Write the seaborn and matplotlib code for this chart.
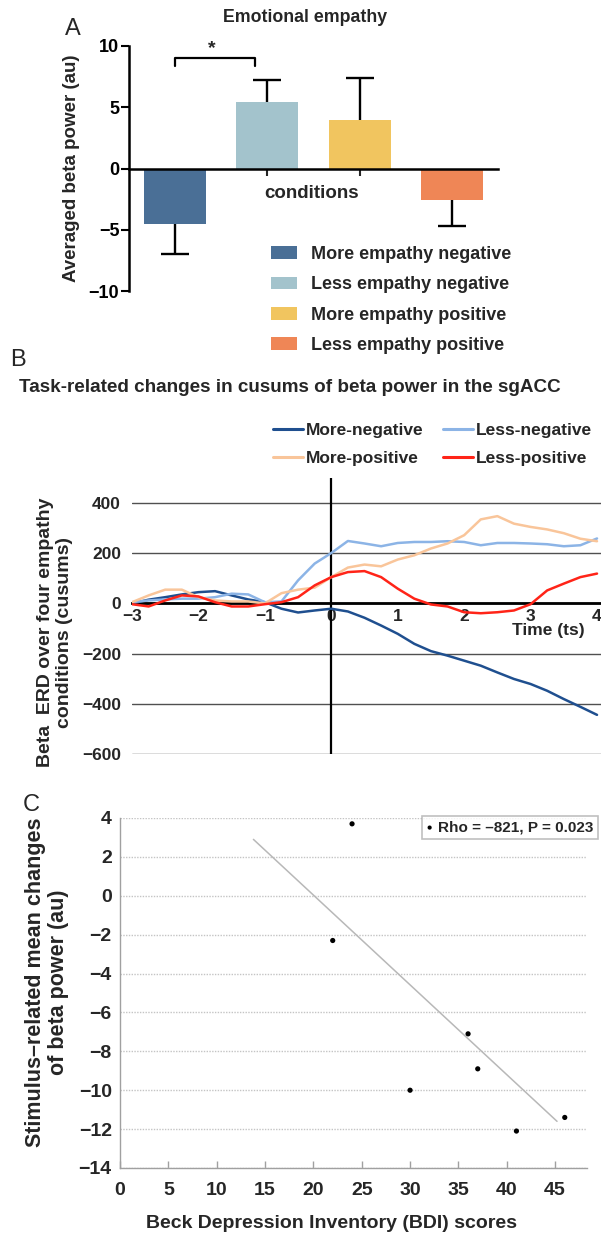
import numpy as np
import pandas as pd
import matplotlib
matplotlib.use("Agg")
import matplotlib.pyplot as plt
import seaborn as sns
from matplotlib.patches import Patch
from matplotlib.lines import Line2D

# ---------------- Panel A data ----------------
conditions = ["More empathy negative", "Less empathy negative",
              "More empathy positive", "Less empathy positive"]
beta_means = [-4.5, 5.4, 4.0, -2.6]
beta_err = [2.5, 1.8, 3.4, 2.1]
bar_colors = ["#4a6f96", "#a3c3cc", "#f1c55f", "#ef8656"]

# ---------------- Panel B data ----------------
time_s = [-3.0, -2.75, -2.5, -2.25, -2.0, -1.75, -1.5, -1.25, -1.0, -0.75,
          -0.5, -0.25, 0.0, 0.25, 0.5, 0.75, 1.0, 1.25, 1.5, 1.75,
          2.0, 2.25, 2.5, 2.75, 3.0, 3.25, 3.5, 3.75, 4.0]
more_negative = [0, 15, 25, 36, 45, 49, 32, 16, 5, -21,
                 -36, -28, -21, -32, -57, -88, -121, -161, -190, -208,
                 -228, -248, -275, -301, -321, -348, -381, -412, -444]
less_negative = [5, 12, 16, 19, 19, 25, 39, 36, 5, 8,
                 92, 159, 201, 249, 239, 228, 241, 245, 245, 248,
                 245, 232, 241, 241, 239, 236, 228, 232, 259]
more_positive = [5, 32, 55, 55, 25, 12, 8, 8, 0, 41,
                 55, 63, 105, 143, 155, 148, 175, 192, 219, 239,
                 272, 335, 348, 318, 305, 295, 280, 258, 248]
less_positive = [-3, -12, 12, 32, 28, 5, -12, -12, -3, 5,
                 25, 72, 105, 125, 129, 105, 59, 19, -4, -12,
                 -35, -39, -35, -28, -3, 52, 79, 105, 119]
series_names = ["More-negative", "Less-negative", "More-positive", "Less-positive"]
series_colors = ["#1f4f8f", "#8cb4e6", "#f9c59a", "#ff2418"]

# ---------------- Panel C data ----------------
bdi_scores = [22, 24, 30, 36, 37, 41, 46]
beta_change = [-2.3, 3.7, -10.0, -7.1, -8.9, -12.1, -11.4]
fit_x = [13.8, 45.2]
fit_y = [2.9, -11.6]
stat_label = "Rho = \u2013821, P = 0.023"

# ---------------- style ----------------
sns.set_style("white")
plt.rcParams["font.family"] = ["Liberation Sans", "DejaVu Sans"]

W, H = 601, 1236
fig = plt.figure(figsize=(W / 100, H / 100), dpi=100)


def fx(px):
    return px / W


def fy(py):
    return 1 - py / H


def rect(l, t, r, b):
    return [l / W, 1 - b / H, (r - l) / W, (b - t) / H]


# ======================= Panel A =======================
axA = fig.add_axes(rect(129, 46, 498, 291))
dfA = pd.DataFrame({"condition": conditions, "value": beta_means})
sns.barplot(data=dfA, x="condition", y="value", hue="condition",
            palette=bar_colors, width=0.67, saturation=1, legend=False, ax=axA)
for p in axA.patches:
    p.set_zorder(3)
    p.set_edgecolor("none")
axA.errorbar(range(len(conditions)), beta_means, yerr=beta_err, fmt="none",
             ecolor="black", elinewidth=1.7, capsize=10, capthick=1.7, zorder=2)
axA.set_xlim(-0.5, 3.5)
axA.set_ylim(-10, 10)
axA.set_yticks([-10, -5, 0, 5, 10])
axA.set_xticks(range(len(conditions)))
axA.set_xticklabels([])
axA.set_xlabel("")
for s in ["top", "right"]:
    axA.spines[s].set_visible(False)
axA.spines["bottom"].set_position(("data", 0))
for s in ["left", "bottom"]:
    axA.spines[s].set_color("black")
    axA.spines[s].set_linewidth(1.8)
axA.spines["bottom"].set_zorder(4)
axA.tick_params(axis="y", direction="out", length=6, width=1.5, labelsize=13,
                pad=1, colors="black", left=True)
axA.tick_params(axis="x", direction="out", length=5, width=1.5, bottom=True)
for t in axA.get_yticklabels():
    t.set_fontweight("bold")
axA.set_ylabel("Averaged beta power (au)", fontsize=13.5, fontweight="bold")
axA.yaxis.label.set_verticalalignment("center")
axA.yaxis.set_label_coords((71 - 129) / 369, 0.5)
# significance bracket
axA.plot([0, 0, 0.87, 0.87], [8.4, 9.05, 9.05, 8.4], color="black", lw=1.6,
         clip_on=False, zorder=5)
axA.text(0.40, 9.75, "*", ha="center", va="center", fontsize=14,
         fontweight="bold", clip_on=False)

fig.text(fx(73), fy(29), "A", fontsize=17, ha="center", va="center")
fig.text(fx(305), fy(18), "Emotional empathy", fontsize=12.8,
         fontweight="bold", ha="center", va="center")
fig.text(fx(312), fy(193), "conditions", fontsize=13.5, fontweight="bold",
         ha="center", va="center")
legA = fig.legend(handles=[Patch(facecolor=c, edgecolor="none") for c in bar_colors],
                  labels=conditions, loc="upper left",
                  bbox_to_anchor=(fx(271), fy(246)), frameon=False,
                  prop={"size": 13, "weight": "bold"},
                  handlelength=1.45, handleheight=0.7, handletextpad=0.75,
                  labelspacing=0.74, borderpad=0, borderaxespad=0)

# ======================= Panel B =======================
fig.text(fx(18), fy(360), "B", fontsize=17, ha="center", va="center")
fig.text(fx(19), fy(388), "Task-related changes in cusums of beta power in the sgACC",
         fontsize=13.6, fontweight="bold", ha="left", va="center")

axB = fig.add_axes(rect(132, 478, 601, 754))
dfB = pd.concat([
    pd.DataFrame({"time": time_s, "value": vals, "series": name})
    for name, vals in zip(series_names,
                          [more_negative, less_negative, more_positive, less_positive])
])
sns.lineplot(data=dfB, x="time", y="value", hue="series", hue_order=series_names,
             palette=dict(zip(series_names, series_colors)), linewidth=1.8,
             legend=False, ax=axB, zorder=3)
axB.set_xlim(-3, 4.06)
axB.set_ylim(-600, 500)
axB.set_yticks([-600, -400, -200, 0, 200, 400])
axB.set_xticks(range(-3, 5))
axB.yaxis.grid(True, color="#505050", lw=1.0)
axB.set_axisbelow(True)
for s in ["top", "right", "left"]:
    axB.spines[s].set_visible(False)
axB.spines["bottom"].set_position(("data", 0))
axB.spines["bottom"].set_color("black")
axB.spines["bottom"].set_linewidth(2.0)
axB.axvline(0, color="black", lw=1.6, zorder=2)
axB.tick_params(axis="x", length=0, labelsize=12.5, pad=4)
axB.tick_params(axis="y", length=0, labelsize=12.5, pad=8)
for t in axB.get_xticklabels() + axB.get_yticklabels():
    t.set_fontweight("bold")
axB.set_xlabel("")
axB.set_ylabel("Beta  ERD over four empathy\nconditions (cusums)", fontsize=14,
               fontweight="bold", linespacing=1.1)
axB.yaxis.label.set_verticalalignment("center")
axB.yaxis.set_label_coords((55 - 132) / 469, 0.44)
fig.text(fx(548), fy(631), "Time (ts)", fontsize=12.5, fontweight="bold",
         ha="center", va="center")
order = [0, 2, 1, 3]
legB = fig.legend(handles=[Line2D([0], [0], color=series_colors[i], lw=2.2) for i in order],
                  labels=[series_names[i] for i in order], ncol=2, loc="upper left",
                  bbox_to_anchor=(fx(273), fy(423)), frameon=False,
                  prop={"size": 12.5, "weight": "bold"},
                  handlelength=1.75, handletextpad=0.15, columnspacing=1.1,
                  labelspacing=0.75, borderpad=0, borderaxespad=0)

# ======================= Panel C =======================
fig.text(fx(31), fy(805), "C", fontsize=17, ha="center", va="center")
axC = fig.add_axes(rect(120, 818, 587, 1168))
sns.lineplot(x=fit_x, y=fit_y, color="#b8b8b8", linewidth=1.1, ax=axC, zorder=2)
sns.scatterplot(x=bdi_scores, y=beta_change, color="black", s=14,
                edgecolor="none", ax=axC, zorder=3, label=stat_label)
axC.set_xlim(0, 48.3)
axC.set_ylim(-14, 4)
axC.set_xticks(range(0, 50, 5))
axC.set_yticks(range(-14, 5, 2))
axC.yaxis.grid(True, color="#c4c4c4", lw=1.0, linestyle=(0, (1, 1)))
axC.set_axisbelow(True)
for s in ["top", "right"]:
    axC.spines[s].set_visible(False)
for s in ["left", "bottom"]:
    axC.spines[s].set_color("#a0a0a0")
    axC.spines[s].set_linewidth(1.0)
axC.tick_params(axis="x", direction="in", length=5, width=1, color="#a0a0a0",
                labelsize=14, pad=10, bottom=True)
axC.tick_params(axis="y", length=0, labelsize=14, pad=6)
for t in axC.get_xticklabels() + axC.get_yticklabels():
    t.set_fontweight("bold")
axC.set_xlabel("Beck Depression Inventory (BDI) scores", fontsize=14,
               fontweight="bold")
axC.xaxis.label.set_verticalalignment("center")
axC.xaxis.set_label_coords((332 - 120) / 467, (1168 - 1224) / 350)
axC.set_ylabel("Stimulus\u2013related mean changes\nof beta power (au)", fontsize=15.5,
               fontweight="bold", linespacing=1.1)
axC.yaxis.label.set_verticalalignment("center")
axC.yaxis.set_label_coords((47 - 120) / 467, 0.53)
legC = axC.legend(loc="upper right", bbox_to_anchor=(fx(598), fy(816)),
                  bbox_transform=fig.transFigure, frameon=True, fancybox=False,
                  edgecolor="#b0b0b0", prop={"size": 11, "weight": "bold"},
                  handlelength=0.4, handletextpad=0.35, borderpad=0.3,
                  borderaxespad=0, markerscale=0.8)
legC.get_frame().set_linewidth(1.2)

fig.savefig("out.png", dpi=100)
